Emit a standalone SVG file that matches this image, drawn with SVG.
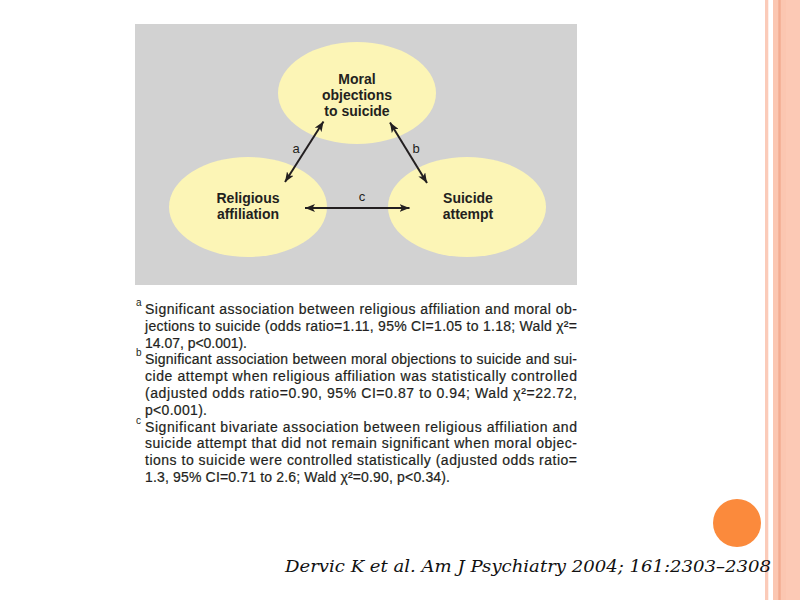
<svg xmlns="http://www.w3.org/2000/svg" width="800" height="600" viewBox="0 0 800 600">
<defs>
<style>
.node{fill:#fcf5b6;stroke:none}
.nt{font-family:"Liberation Sans",Arial,sans-serif;font-weight:bold;font-size:14px;fill:#231f20;text-anchor:middle}
.lbl{font-family:"Liberation Sans",Arial,sans-serif;font-size:13px;fill:#231f20;text-anchor:middle}
.conn line{stroke:#231f20;stroke-width:2;marker-start:url(#ah);marker-end:url(#ah)}
.fn{font-family:"Liberation Sans",Arial,sans-serif;font-size:14px;fill:#231f20;stroke:#231f20;stroke-width:0.2}
.sup{font-family:"Liberation Sans",Arial,sans-serif;font-size:10px;fill:#231f20}
.cite{font-family:"DejaVu Serif","Liberation Serif",serif;font-style:italic;font-size:17px;fill:#111}
</style>
<marker id="ah" viewBox="0 0 10 8" refX="10" refY="4" markerWidth="10" markerHeight="8" markerUnits="userSpaceOnUse" orient="auto-start-reverse">
<path d="M0,0 L10,4 L0,8 L2.5,4 z" fill="#231f20"/>
</marker>
</defs>
<rect x="0" y="0" width="800" height="600" fill="#ffffff"/>
<!-- right border stripes -->
<rect x="765" y="0" width="3.3" height="600" fill="#fbcbb9"/>
<rect x="773" y="0" width="27" height="600" fill="#fbc6b1"/>
<rect x="786" y="0" width="14" height="600" fill="#fcc9b5"/>
<rect x="778.3" y="0" width="2.4" height="600" fill="#f3ab90"/>
<!-- figure background -->
<rect x="135" y="24" width="442" height="261" fill="#d2d2d2"/>
<g id="node-moral">
<ellipse class="node" cx="357" cy="93" rx="79" ry="51"/>
<text class="nt" x="357" y="84">Moral</text>
<text class="nt" x="357" y="100">objections</text>
<text class="nt" x="357" y="116">to suicide</text>
</g>
<g id="node-religious">
<ellipse class="node" cx="248" cy="207" rx="79" ry="50"/>
<text class="nt" x="248" y="203">Religious</text>
<text class="nt" x="248" y="219">affiliation</text>
</g>
<g id="node-suicide">
<ellipse class="node" cx="467" cy="207" rx="79" ry="50"/>
<text class="nt" x="468" y="203">Suicide</text>
<text class="nt" x="468" y="219">attempt</text>
</g>
<g id="connectors" class="conn">
<line x1="285" y1="182" x2="323.5" y2="121.5"/>
<line x1="390" y1="122.5" x2="427" y2="183"/>
<line x1="305" y1="208" x2="409.5" y2="208"/>
<text class="lbl" x="296" y="153">a</text>
<text class="lbl" x="416" y="153">b</text>
<text class="lbl" x="362" y="201">c</text>
</g>
<g id="footnotes">
<text class="sup" x="136" y="306">a</text>
<text class="fn" x="145" y="314" textLength="432" lengthAdjust="spacing">Significant association between religious affiliation and moral ob-</text>
<text class="fn" x="145" y="330.8" textLength="432" lengthAdjust="spacing">jections to suicide (odds ratio=1.11, 95% CI=1.05 to 1.18; Wald χ²=</text>
<text class="fn" x="145" y="347.6" textLength="102" lengthAdjust="spacing">14.07, p&lt;0.001).</text>
<text class="sup" x="136" y="356.4">b</text>
<text class="fn" x="145" y="364.4" textLength="432" lengthAdjust="spacing">Significant association between moral objections to suicide and sui-</text>
<text class="fn" x="145" y="381.2" textLength="432" lengthAdjust="spacing">cide attempt when religious affiliation was statistically controlled</text>
<text class="fn" x="145" y="398" textLength="432" lengthAdjust="spacing">(adjusted odds ratio=0.90, 95% CI=0.87 to 0.94; Wald χ²=22.72,</text>
<text class="fn" x="145" y="414.8" textLength="62" lengthAdjust="spacing">p&lt;0.001).</text>
<text class="sup" x="136" y="423.6">c</text>
<text class="fn" x="145" y="431.6" textLength="432" lengthAdjust="spacing">Significant bivariate association between religious affiliation and</text>
<text class="fn" x="145" y="448.4" textLength="432" lengthAdjust="spacing">suicide attempt that did not remain significant when moral objec-</text>
<text class="fn" x="145" y="465.2" textLength="432" lengthAdjust="spacing">tions to suicide were controlled statistically (adjusted odds ratio=</text>
<text class="fn" x="145" y="482" textLength="305" lengthAdjust="spacing">1.3, 95% CI=0.71 to 2.6; Wald χ²=0.90, p&lt;0.34).</text>
</g>
<circle cx="737" cy="523" r="24" fill="#fb8a3c"/>
<text class="cite" x="285" y="572" textLength="486" lengthAdjust="spacingAndGlyphs">Dervic K et al. Am J Psychiatry 2004; 161:2303–2308</text>
</svg>
